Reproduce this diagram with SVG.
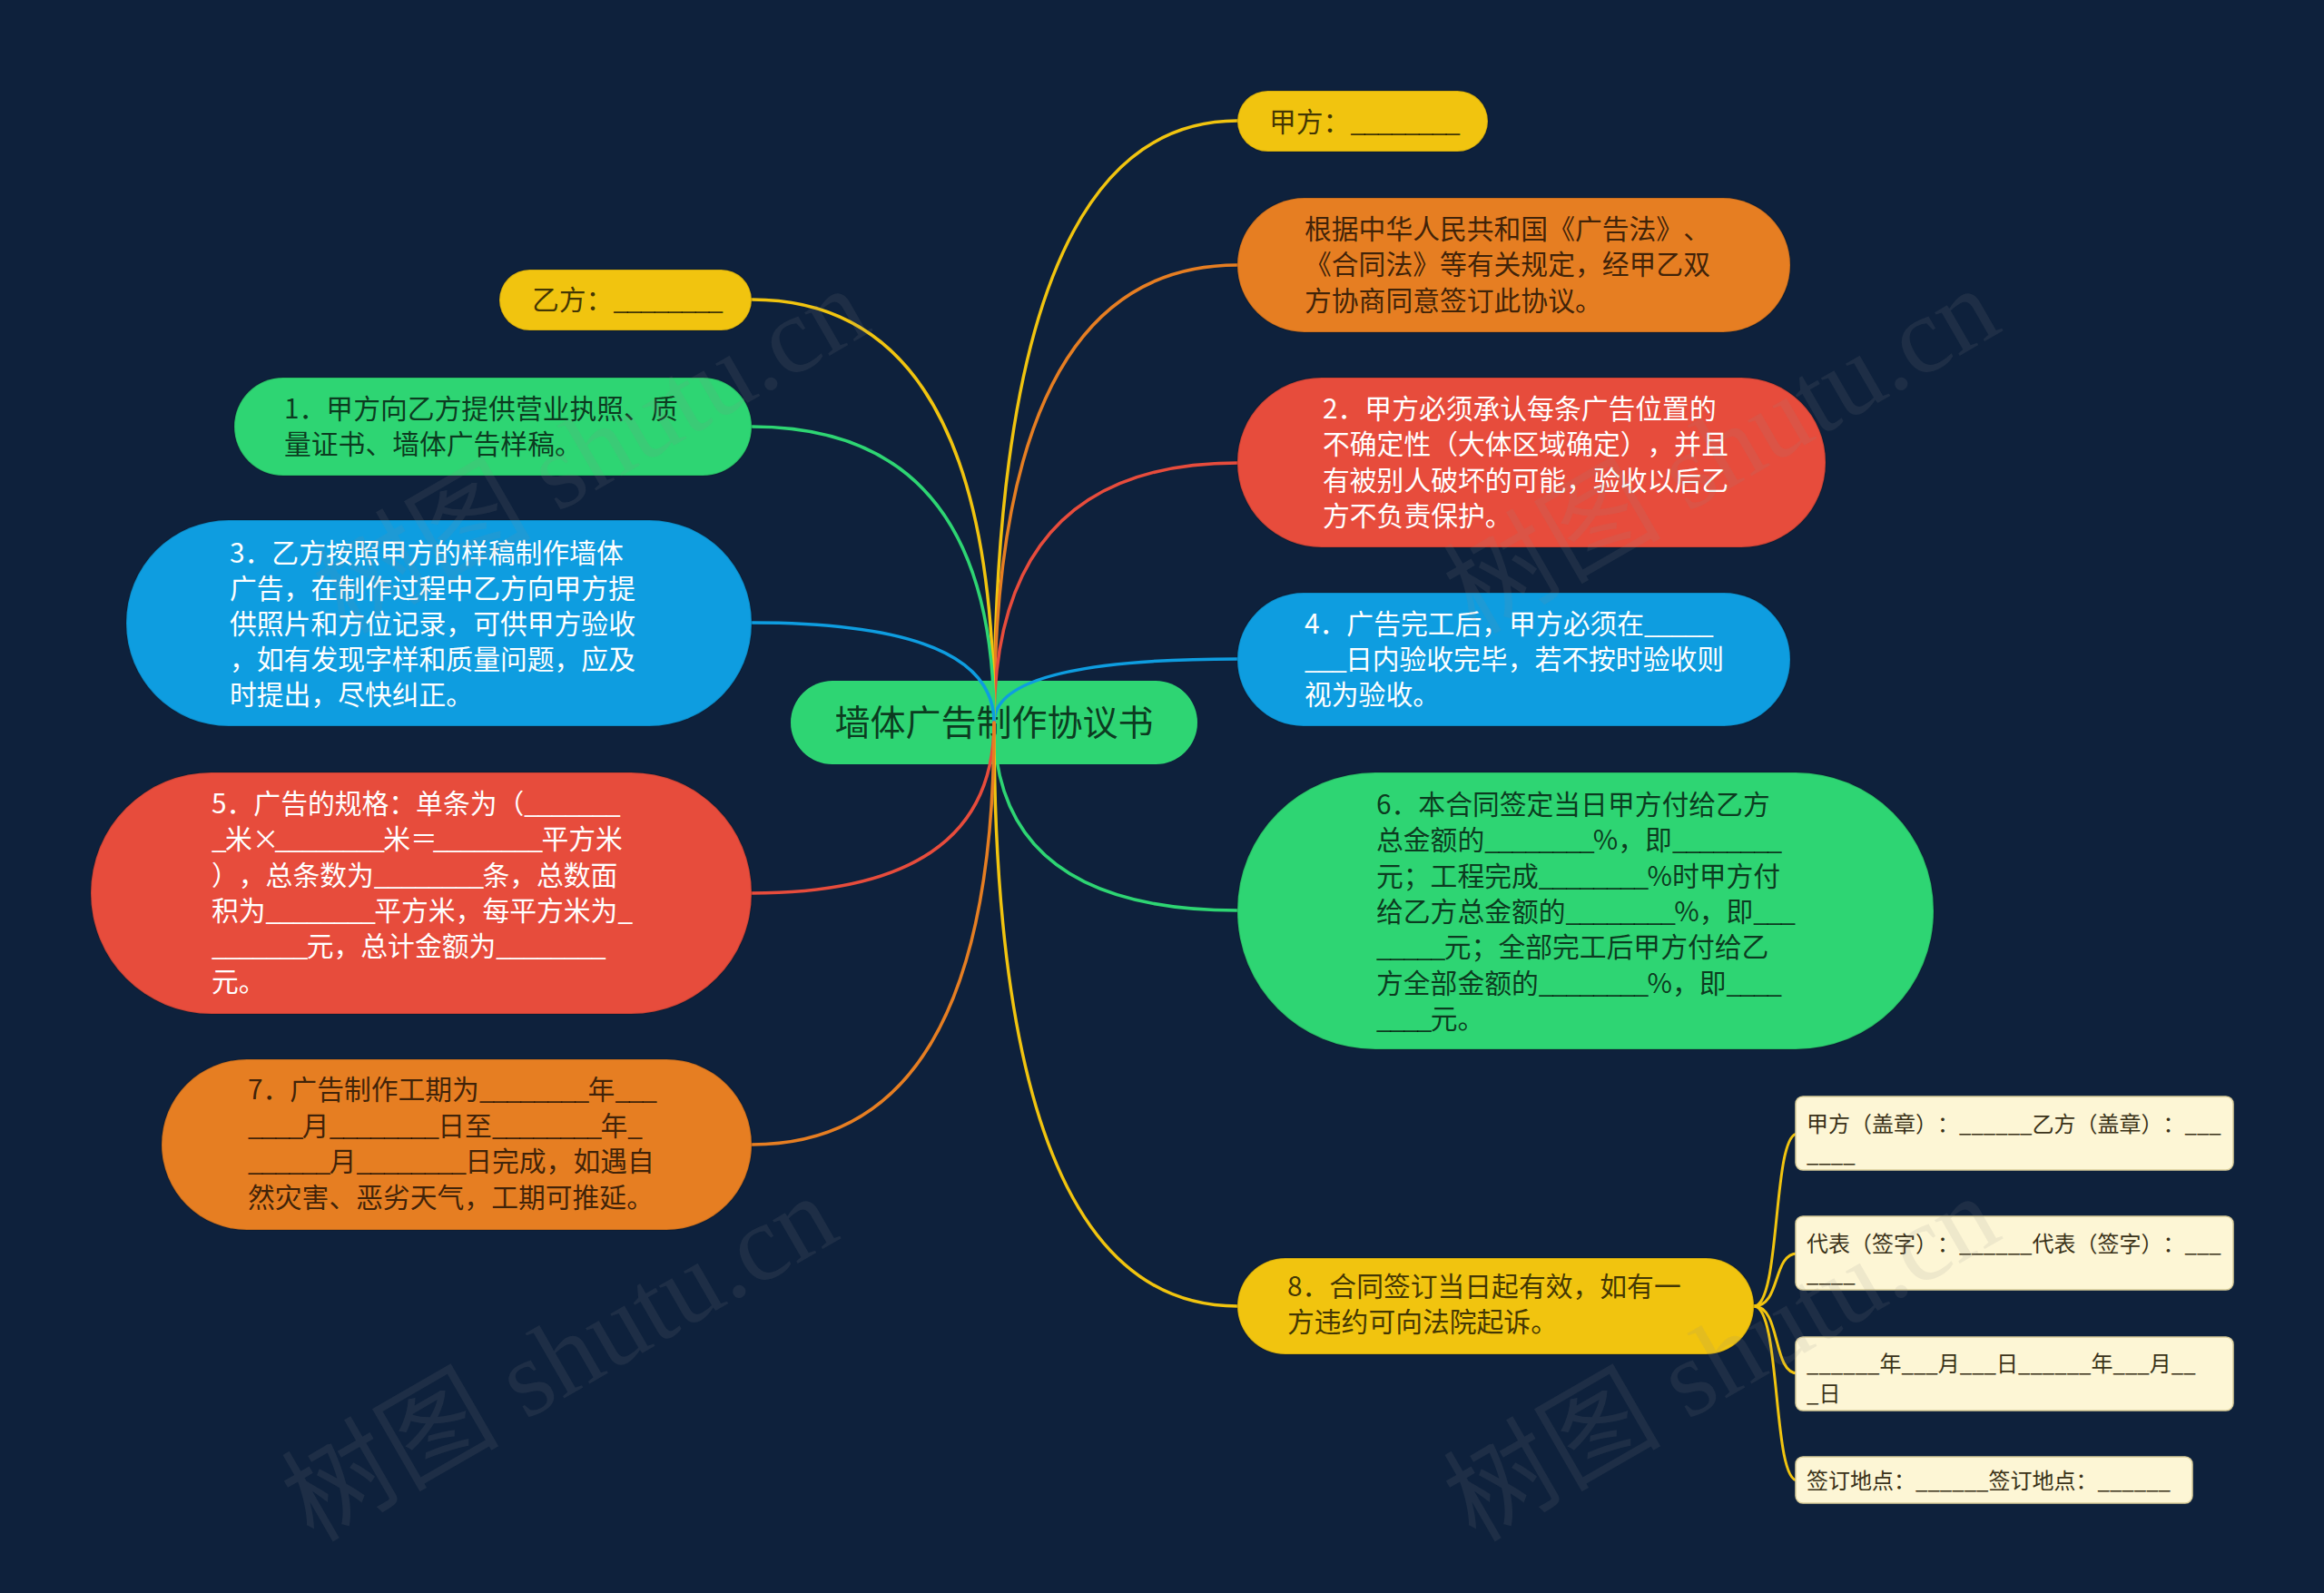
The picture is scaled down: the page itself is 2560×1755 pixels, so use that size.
<svg xmlns="http://www.w3.org/2000/svg" width="2560" height="1755" viewBox="0 0 2560 1755">
<style>
text{text-spacing-trim:space-all}
.t{font-family:"Noto Sans CJK SC","Noto Sans",sans-serif;font-size:29.8px}
.s{font-family:"Noto Sans CJK SC","Noto Sans",sans-serif;font-size:24px;fill:#3a3218}
.u{letter-spacing:-1.7px}
.nar{letter-spacing:-5px}
.dk{fill:#000;fill-opacity:.74}
.wt{fill:#fff}
.nb{stroke:#000;stroke-opacity:.12;stroke-width:2}
.c{fill:none;stroke-width:3.5;stroke-linecap:round}
.y{fill:#f1c40f}.o{fill:#e67e22}.r{fill:#e74c3c}.b{fill:#0e9de0}.g{fill:#2ed573}
.cy{stroke:#f1c40f}.co{stroke:#e67e22}.cr{stroke:#e74c3c}.cb{stroke:#0e9de0}.cg{stroke:#2ed573}
.sub{fill:#fdf6d5;stroke:#d9cd99;stroke-width:1.5}
.wm{font-family:"Liberation Serif","Noto Sans CJK SC",serif;font-size:120px;fill:#8a8a8a;fill-opacity:.13}
</style>
<rect x="0" y="0" width="2560" height="1755" fill="#0e213c"/>

<g id="root">
<rect class="g" x="871" y="750" width="448" height="92" rx="46"/>
<text class="t dk" x="1095" y="810" text-anchor="middle" style="font-size:39px">墙体广告制作协议书</text>
</g>

<g id="connectors">
<path class="c cy" d="M1095 796 Q1095 133 1363 133"/>
<path class="c co" d="M1095 796 Q1095 292 1363 292"/>
<path class="c cr" d="M1095 796 Q1095 510 1363 510"/>
<path class="c cb" d="M1095 796 Q1095 726 1363 726"/>
<path class="c cg" d="M1095 796 Q1095 1003 1363 1003"/>
<path class="c cy" d="M1095 796 Q1095 1439 1363 1439"/>
<path class="c cy" d="M1095 796 Q1095 330 828 330"/>
<path class="c cg" d="M1095 796 Q1095 470 828 470"/>
<path class="c cb" d="M1095 796 Q1095 686 828 686"/>
<path class="c cr" d="M1095 796 Q1095 984 828 984"/>
<path class="c co" d="M1095 796 Q1095 1261 828 1261"/>
<path class="c cy" style="stroke-width:3" d="M1932 1439 C1962 1439 1952 1249 1980 1249"/>
<path class="c cy" style="stroke-width:3" d="M1932 1439 C1962 1439 1952 1381 1980 1381"/>
<path class="c cy" style="stroke-width:3" d="M1932 1439 C1962 1439 1952 1513 1980 1513"/>
<path class="c cy" style="stroke-width:3" d="M1932 1439 C1962 1439 1952 1631 1980 1631"/>
</g>

<g id="n-jiafang">
<rect class="y nb" x="1363" y="100" width="276" height="67" rx="33.5"/>
<text class="t dk" x="1398" y="145">甲方：<tspan class="u">________</tspan></text>
</g>

<g id="n-intro">
<rect class="o nb" x="1363" y="218" width="609" height="148" rx="74"/>
<text class="t dk"><tspan x="1437" y="263">根据中华人民共和国《广告法》、</tspan><tspan x="1437" y="302">《合同法》等有关规定，经甲乙双</tspan><tspan x="1437" y="342">方协商同意签订此协议。</tspan></text>
</g>

<g id="n-2">
<rect class="r nb" x="1363" y="416" width="648" height="187" rx="93"/>
<text class="t wt"><tspan x="1457" y="461">2．甲方必须承认每条广告位置的</tspan><tspan x="1457" y="500">不确定性（大体区域确定），并且</tspan><tspan x="1457" y="540">有被别人破坏的可能，验收以后乙</tspan><tspan x="1457" y="579">方不负责保护。</tspan></text>
</g>

<g id="n-4">
<rect class="b nb" x="1363" y="653" width="609" height="147" rx="73"/>
<text class="t wt"><tspan x="1437" y="698">4．广告完工后，甲方必须在<tspan class="u">_____</tspan></tspan><tspan x="1437" y="737"><tspan class="u">___</tspan>日内验收完毕，若不按时验收则</tspan><tspan x="1437" y="776">视为验收。</tspan></text>
</g>

<g id="n-6">
<rect class="g nb" x="1363" y="851" width="767" height="305" rx="152"/>
<text class="t dk"><tspan x="1516" y="897">6．本合同签定当日甲方付给乙方</tspan><tspan x="1516" y="936">总金额的<tspan class="u">________</tspan>%，即<tspan class="u">________</tspan></tspan><tspan x="1516" y="976">元；工程完成<tspan class="u">________</tspan>%时甲方付</tspan><tspan x="1516" y="1015">给乙方总金额的<tspan class="u">________</tspan>%，即<tspan class="u">___</tspan></tspan><tspan x="1516" y="1054"><tspan class="u">_____</tspan>元；全部完工后甲方付给乙</tspan><tspan x="1516" y="1094">方全部金额的<tspan class="u">________</tspan>%，即<tspan class="u">____</tspan></tspan><tspan x="1516" y="1133"><tspan class="u">____</tspan>元。</tspan></text>
</g>

<g id="n-8">
<rect class="y nb" x="1363" y="1386" width="569" height="106" rx="53"/>
<text class="t dk"><tspan x="1418" y="1428">8．合同签订当日起有效，如有一</tspan><tspan x="1418" y="1467">方违约可向法院起诉。</tspan></text>
</g>

<g id="n-8a">
<rect class="sub" x="1978" y="1208" width="482" height="81" rx="8"/>
<text class="s"><tspan x="1990" y="1247">甲方（盖章）：______乙方（盖章）：___</tspan><tspan x="1990" y="1280">____</tspan></text>
</g>
<g id="n-8b">
<rect class="sub" x="1978" y="1340" width="482" height="81" rx="8"/>
<text class="s"><tspan x="1990" y="1379">代表（签字）：______代表（签字）：___</tspan><tspan x="1990" y="1412">____</tspan></text>
</g>
<g id="n-8c">
<rect class="sub" x="1978" y="1473" width="482" height="81" rx="8"/>
<text class="s"><tspan x="1990" y="1511">______年___月___日______年___月__</tspan><tspan x="1990" y="1544">_日</tspan></text>
</g>
<g id="n-8d">
<rect class="sub" x="1978" y="1605" width="437" height="51" rx="8"/>
<text class="s" x="1990" y="1640">签订地点：______签订地点：______</text>
</g>

<g id="n-yifang">
<rect class="y nb" x="550" y="297" width="278" height="67" rx="33.5"/>
<text class="t dk" x="586" y="341">乙方：<tspan class="u">________</tspan></text>
</g>

<g id="n-1">
<rect class="g nb" x="258" y="416" width="570" height="108" rx="54"/>
<text class="t dk"><tspan x="313" y="461">1．甲方向乙方提供营业执照、质</tspan><tspan x="313" y="500">量证书、墙体广告样稿。</tspan></text>
</g>

<g id="n-3">
<rect class="b nb" x="139" y="573" width="689" height="227" rx="113"/>
<text class="t wt"><tspan x="253" y="620">3．乙方按照甲方的样稿制作墙体</tspan><tspan x="253" y="659">广告，在制作过程中乙方向甲方提</tspan><tspan x="253" y="698">供照片和方位记录，可供甲方验收</tspan><tspan x="253" y="737">，如有发现字样和质量问题，应及</tspan><tspan x="253" y="776">时提出，尽快纠正。</tspan></text>
</g>

<g id="n-5">
<rect class="r nb" x="100" y="851" width="728" height="266" rx="133"/>
<text class="t wt"><tspan x="233" y="896">5．广告的规格：单条为（<tspan class="u">_______</tspan></tspan><tspan x="233" y="935"><tspan class="u">_</tspan>米<tspan class="nar">×</tspan><tspan class="u">________</tspan>米<tspan class="nar">＝</tspan><tspan class="u">________</tspan>平方米</tspan><tspan x="233" y="975">），总条数为<tspan class="u">________</tspan>条，总数面</tspan><tspan x="233" y="1014">积为<tspan class="u">________</tspan>平方米，每平方米为<tspan class="u">_</tspan></tspan><tspan x="233" y="1053"><tspan class="u">_______</tspan>元，总计金额为<tspan class="u">________</tspan></tspan><tspan x="233" y="1092">元。</tspan></text>
</g>

<g id="n-7">
<rect class="o nb" x="178" y="1167" width="650" height="188" rx="94"/>
<text class="t dk"><tspan x="273" y="1211">7．广告制作工期为<tspan class="u">________</tspan>年<tspan class="u">___</tspan></tspan><tspan x="273" y="1251"><tspan class="u">____</tspan>月<tspan class="u">________</tspan>日至<tspan class="u">________</tspan>年<tspan class="u">_</tspan></tspan><tspan x="273" y="1290"><tspan class="u">______</tspan>月<tspan class="u">________</tspan>日完成，如遇自</tspan><tspan x="273" y="1330">然灾害、恶劣天气，工期可推延。</tspan></text>
</g>

<g id="watermark">
<text class="wm" transform="translate(380 700) rotate(-30)">树图 shutu.cn</text>
<text class="wm" transform="translate(1625 700) rotate(-30)">树图 shutu.cn</text>
<text class="wm" transform="translate(345 1700) rotate(-30)">树图 shutu.cn</text>
<text class="wm" transform="translate(1625 1700) rotate(-30)">树图 shutu.cn</text>
</g>
</svg>
